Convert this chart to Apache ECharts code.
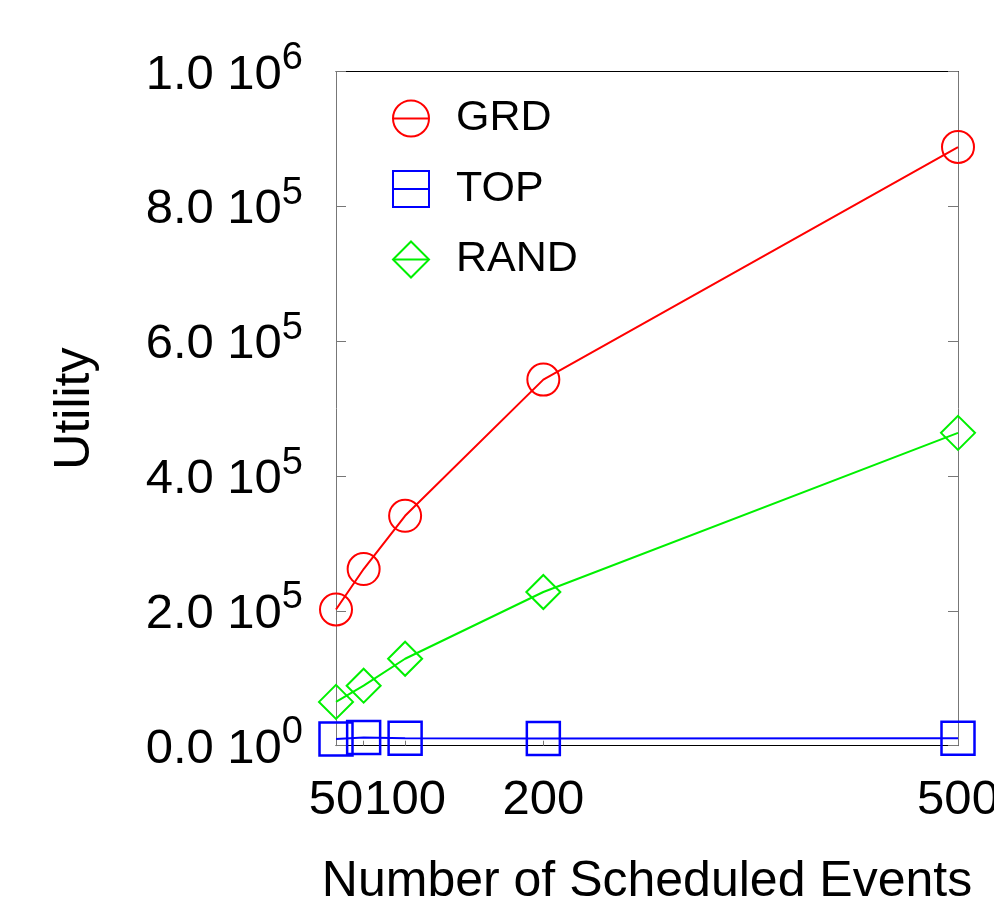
<!DOCTYPE html>
<html>
<head>
<meta charset="utf-8">
<script src="https://cdn.jsdelivr.net/npm/echarts@6/dist/echarts.min.js"></script>
<style>
html,body{margin:0;padding:0;background:#fff;}
#chart{width:994px;height:900px;}
</style>
</head>
<body>
<div id="chart"></div>
<script>
// ---- data ----
var xValues = [50, 70, 100, 200, 500];
var xTickValues = [50, 70, 100, 200, 500];
var xLabelValues = [50, 100, 200, 500];
var grdValues = [202000, 262000, 341000, 543000, 888000];
var topValues = [10000, 12000, 11000, 10500, 11000];
var randValues = [65000, 89000, 129000, 228000, 464000];
var seriesNames = ['GRD', 'TOP', 'RAND'];
var yTickValues = [0, 200000, 400000, 600000, 800000, 1000000];

function pairs(xs, ys) { return xs.map(function (x, i) { return [x, ys[i]]; }); }

var FONT = '"Liberation Sans", Arial, sans-serif';

function sciLabel(v) {
  var e = v === 0 ? 0 : Math.floor(Math.log10(v) + 1e-9);
  var m = v === 0 ? 0 : v / Math.pow(10, e);
  return '{b|' + m.toFixed(1) + ' 10}{s|' + e + '}';
}

var chart = echarts.init(document.getElementById('chart'), null, {renderer: 'canvas'});

function mk(name, data, symbol, color, size, bw) {
  return {
    name: name, type: 'line', data: data, symbol: symbol, symbolSize: size,
    clip: false,
    lineStyle: {color: color, width: 2},
    itemStyle: {color: 'transparent', borderColor: color, borderWidth: bw},
    emphasis: {disabled: true},
    z: 3
  };
}

chart.setOption({
  animation: false,
  backgroundColor: '#fff',
  textStyle: {fontFamily: FONT},
  grid: {left: 336, right: 36, top: 71.5, bottom: 154.3, containLabel: false, outerBoundsMode: 'none'},
  legend: {
    orient: 'vertical', left: 392, top: 96, padding: 0,
    itemWidth: 36, itemHeight: 45, itemGap: 25.5,
    data: seriesNames,
    textStyle: {fontFamily: FONT, fontSize: 43, color: '#000', padding: [0, 0, 0, 22], lineHeight: 45},
    selectedMode: false
  },
  xAxis: [{
    type: 'value', min: 50, max: 500, position: 'bottom',
    name: 'Number of Scheduled Events', nameLocation: 'middle', nameGap: 112,
    nameTextStyle: {fontFamily: FONT, fontSize: 50, color: '#000'},
    axisLine: {show: true, onZero: false, lineStyle: {color: '#000', width: 1}},
    axisTick: {show: true, inside: true, length: 5, customValues: xTickValues, lineStyle: {color: '#777'}},
    axisLabel: {show: true, customValues: xLabelValues, margin: 30, fontFamily: FONT, fontSize: 49, color: '#000', hideOverlap: false},
    splitLine: {show: false}
  }, {
    type: 'value', min: 50, max: 500, position: 'top',
    axisLine: {show: true, onZero: false, lineStyle: {color: '#000', width: 1}},
    axisTick: {show: false}, axisLabel: {show: false}, splitLine: {show: false}
  }],
  yAxis: [{
    type: 'value', min: 0, max: 1000000, interval: 200000, position: 'left',
    name: 'Utility', nameLocation: 'middle', nameGap: 236,
    nameTextStyle: {fontFamily: FONT, fontSize: 50, color: '#000'},
    axisLine: {show: true, onZero: false, lineStyle: {color: '#777', width: 1}},
    axisTick: {show: true, inside: true, length: 10, lineStyle: {color: '#777'}},
    axisLabel: {
      show: true, margin: 33, formatter: sciLabel,
      rich: {
        b: {fontFamily: FONT, fontSize: 49, color: '#000', verticalAlign: 'bottom', lineHeight: 56},
        s: {fontFamily: FONT, fontSize: 38, color: '#000', verticalAlign: 'bottom', lineHeight: 56, padding: [0, 0, 22, 0]}
      }
    },
    splitLine: {show: false}
  }, {
    type: 'value', min: 0, max: 1000000, interval: 200000, position: 'right',
    axisLine: {show: true, onZero: false, lineStyle: {color: '#777', width: 1}},
    axisTick: {show: true, inside: true, length: 10, lineStyle: {color: '#777'}},
    axisLabel: {show: false}, splitLine: {show: false}
  }],
  series: [
    mk(seriesNames[0], pairs(xValues, grdValues), 'circle', '#ff0000', 32, 2),
    mk(seriesNames[1], pairs(xValues, topValues), 'rect', '#0000ff', 33, 2.5),
    mk(seriesNames[2], pairs(xValues, randValues), 'diamond', '#00f000', 34, 2)
  ]
});
</script>
</body>
</html>
